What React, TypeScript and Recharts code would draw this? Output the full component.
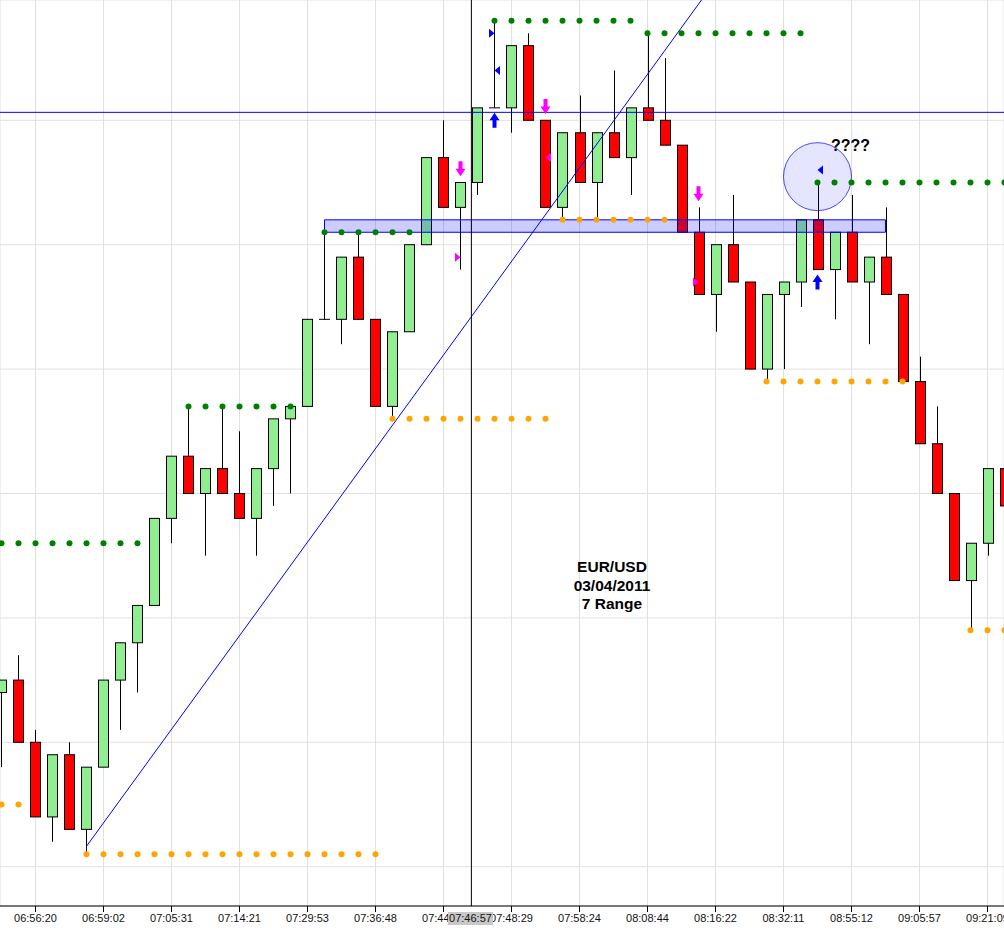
import React from 'react';
import {
  ComposedChart,
  Bar,
  Line,
  XAxis,
  YAxis,
  CartesianGrid,
  ReferenceLine,
  ReferenceArea,
  ReferenceDot
} from 'recharts';

const FONT = '"Liberation Sans", Arial, Helvetica, sans-serif';
const GREEN = '#90EE90';
const RED = '#FF0000';
const BLUE = '#0000FF';
const MAGENTA = '#FF00FF';

// EUR/USD 7 pip range bars, left to right
const opens = [
  1.3914, 1.3915, 1.3910, 1.3904, 1.3909, 1.3903, 1.3908, 1.3915, 1.3918, 1.3921,
  1.3928, 1.3933, 1.3930, 1.3932, 1.3930, 1.3928, 1.3932, 1.3936, 1.3937, 1.3944,
  1.3944, 1.3949, 1.3944, 1.3937, 1.3943, 1.3950, 1.3957, 1.3953, 1.3955, 1.3961,
  1.3961, 1.3966, 1.3960, 1.3953, 1.3959, 1.3955, 1.3959, 1.3957, 1.3961, 1.3960,
  1.3958, 1.3951, 1.3946, 1.3950, 1.3947, 1.3940, 1.3946, 1.3947, 1.3952, 1.3948,
  1.3951, 1.3947, 1.3949, 1.3946, 1.3939, 1.3934, 1.3930, 1.3923, 1.3926, 1.3932
];
const closes = [
  1.3915, 1.3910, 1.3904, 1.3909, 1.3903, 1.3908, 1.3915, 1.3918, 1.3921, 1.3928,
  1.3933, 1.3930, 1.3932, 1.3930, 1.3928, 1.3932, 1.3936, 1.3937, 1.3944, 1.3944,
  1.3949, 1.3944, 1.3937, 1.3943, 1.3950, 1.3957, 1.3953, 1.3955, 1.3961, 1.3961,
  1.3966, 1.3960, 1.3953, 1.3959, 1.3955, 1.3959, 1.3957, 1.3961, 1.3960, 1.3958,
  1.3951, 1.3946, 1.3950, 1.3947, 1.3940, 1.3946, 1.3947, 1.3952, 1.3948, 1.3951,
  1.3947, 1.3949, 1.3946, 1.3939, 1.3934, 1.3930, 1.3923, 1.3926, 1.3932, 1.3929
];
const highs = [
  1.3915, 1.3917, 1.3911, 1.3909, 1.3910, 1.3908, 1.3915, 1.3918, 1.3921, 1.3928,
  1.3933, 1.3937, 1.3932, 1.3937, 1.3935, 1.3932, 1.3936, 1.3937, 1.3944, 1.3951,
  1.3949, 1.3951, 1.3944, 1.3943, 1.3950, 1.3957, 1.3960, 1.3955, 1.3961, 1.3968,
  1.3966, 1.3967, 1.3960, 1.3959, 1.3962, 1.3959, 1.3964, 1.3961, 1.3967, 1.3965,
  1.3958, 1.3953, 1.3950, 1.3954, 1.3947, 1.3946, 1.3947, 1.3952, 1.3955, 1.3951,
  1.3954, 1.3949, 1.3953, 1.3946, 1.3941, 1.3937, 1.3930, 1.3926, 1.3932, 1.3936
];
const lows = [
  1.3908, 1.3910, 1.3904, 1.3902, 1.3903, 1.3901, 1.3908, 1.3911, 1.3914, 1.3921,
  1.3926, 1.3930, 1.3925, 1.3930, 1.3928, 1.3925, 1.3929, 1.3930, 1.3937, 1.3944,
  1.3942, 1.3944, 1.3937, 1.3936, 1.3943, 1.3950, 1.3953, 1.3948, 1.3954, 1.3961,
  1.3959, 1.3960, 1.3953, 1.3952, 1.3955, 1.3952, 1.3957, 1.3954, 1.3960, 1.3958,
  1.3951, 1.3946, 1.3943, 1.3947, 1.3940, 1.3939, 1.3940, 1.3945, 1.3948, 1.3944,
  1.3947, 1.3942, 1.3946, 1.3939, 1.3934, 1.3930, 1.3923, 1.3919, 1.3925, 1.3929
];

// green dotted resistance and orange dotted support levels (null = no dot)
const resistance = [
  1.3926, 1.3926, 1.3926, 1.3926, 1.3926, 1.3926, 1.3926, 1.3926, 1.3926, null,
  null, 1.3937, 1.3937, 1.3937, 1.3937, 1.3937, 1.3937, 1.3937, null, 1.3951,
  1.3951, 1.3951, 1.3951, 1.3951, 1.3951, null, null, null, null, 1.3968,
  1.3968, 1.3968, 1.3968, 1.3968, 1.3968, 1.3968, 1.3968, 1.3968, 1.3967, 1.3967,
  1.3967, 1.3967, 1.3967, 1.3967, 1.3967, 1.3967, 1.3967, 1.3967, 1.3955, 1.3955,
  1.3955, 1.3955, 1.3955, 1.3955, 1.3955, 1.3955, 1.3955, 1.3955, 1.3955, 1.3955
];
const support = [
  1.3905, 1.3905, null, null, null, 1.3901, 1.3901, 1.3901, 1.3901, 1.3901,
  1.3901, 1.3901, 1.3901, 1.3901, 1.3901, 1.3901, 1.3901, 1.3901, 1.3901, 1.3901,
  1.3901, 1.3901, 1.3901, 1.3936, 1.3936, 1.3936, 1.3936, 1.3936, 1.3936, 1.3936,
  1.3936, 1.3936, 1.3936, 1.3952, 1.3952, 1.3952, 1.3952, 1.3952, 1.3952, 1.3952,
  null, null, null, null, null, 1.3939, 1.3939, 1.3939, 1.3939, 1.3939,
  1.3939, 1.3939, 1.3939, 1.3939, null, null, null, 1.3919, 1.3919, 1.3919
];

// signal markers: bar index, price, kind
const signals = [
  { i: 27, price: 1.39561, kind: 'sellArrow' },
  { i: 32, price: 1.39611, kind: 'sellArrow' },
  { i: 41, price: 1.39541, kind: 'sellArrow' },
  { i: 29, price: 1.39600, kind: 'buyArrow' },
  { i: 48, price: 1.39470, kind: 'buyArrow' },
  { i: 27, price: 1.39490, kind: 'sellRight' },
  { i: 32, price: 1.39570, kind: 'sellLeft' },
  { i: 41, price: 1.39470, kind: 'sellRight' },
  { i: 29, price: 1.39670, kind: 'buyRight' },
  { i: 29, price: 1.39640, kind: 'buyLeft' },
  { i: 48, price: 1.39560, kind: 'buyLeft' }
];

const tickIndex = [2, 6, 10, 14, 18, 22, 26, 30, 34, 38, 42, 46, 50, 54, 58];
const tickLabels = [
  '06:56:20', '06:59:02', '07:05:31', '07:14:21', '07:29:53', '07:36:48', '07:44:51',
  '07:48:29', '07:58:24', '08:08:44', '08:16:22', '08:32:11', '08:55:12', '09:05:57', '09:21:09'
];
const gridLevels = [1.3900, 1.3910, 1.3920, 1.3930, 1.3940, 1.3950, 1.3960];

const rows = opens.map((open, idx) => ({
  idx,
  open,
  close: closes[idx],
  high: highs[idx],
  low: lows[idx],
  range: [lows[idx], highs[idx]],
  res: resistance[idx],
  sup: support[idx]
}));

const Candle = (props: any) => {
  const { x, y, width, height, payload } = props;
  if (x == null || y == null || !payload) return null;
  const cx = Math.round(x + width / 2 - 0.5) + 0.5;
  const top = Math.min(y, y + height);
  const h = Math.abs(height);
  const { open, close, high, low } = payload;
  const k = h / (high - low);
  const yAt = (v: number) => top + (high - v) * k;
  const yo = yAt(open);
  const yc = yAt(close);
  return (
    <g>
      <line x1={cx} x2={cx} y1={top} y2={top + h} stroke="#000" strokeWidth={1} />
      {open === close ? (
        <line x1={cx - 5.5} x2={cx + 5.5} y1={yo} y2={yo} stroke="#000" strokeWidth={1} />
      ) : (
        <rect
          x={cx - 5}
          y={Math.min(yo, yc)}
          width={10}
          height={Math.abs(yo - yc)}
          fill={close > open ? GREEN : RED}
          stroke="#000"
          strokeWidth={1}
        />
      )}
    </g>
  );
};

const signalShape = (kind: string) => (p: any) => {
  const { cx, cy } = p;
  if (cx == null || cy == null) return <g />;
  const color = kind.startsWith('sell') ? MAGENTA : BLUE;
  let pts = '';
  if (kind === 'sellArrow') {
    pts = `${cx - 2},${cy - 7.5} ${cx + 2},${cy - 7.5} ${cx + 2},${cy} ${cx + 5},${cy} ${cx},${cy + 7.5} ${cx - 5},${cy} ${cx - 2},${cy}`;
  } else if (kind === 'buyArrow') {
    pts = `${cx - 2},${cy + 7.5} ${cx + 2},${cy + 7.5} ${cx + 2},${cy} ${cx + 5},${cy} ${cx},${cy - 7.5} ${cx - 5},${cy} ${cx - 2},${cy}`;
  } else if (kind.endsWith('Right')) {
    pts = `${cx},${cy} ${cx - 5.5},${cy - 4.5} ${cx - 5.5},${cy + 4.5}`;
  } else {
    pts = `${cx},${cy} ${cx + 5.5},${cy - 4.5} ${cx + 5.5},${cy + 4.5}`;
  }
  return <polygon points={pts} fill={color} stroke="none" />;
};

const App = () => {
  return (
    <div
      style={{
        position: 'absolute',
        left: 0,
        top: 0,
        width: 1004,
        height: 932,
        background: '#fff',
        fontFamily: FONT,
        overflow: 'hidden'
      }}
    >
      <ComposedChart width={1004} height={932} data={rows} margin={{ top: 0, right: 0, bottom: 0, left: 0 }}>
        <CartesianGrid stroke="#e0e0e0" />
        <XAxis
          dataKey="idx"
          type="number"
          domain={[-0.088235, 58.970588]}
          allowDataOverflow
          ticks={tickIndex}
          interval={0}
          height={26}
          tickSize={6}
          tickFormatter={(v: number) => tickLabels[tickIndex.indexOf(v)] ?? ''}
          tick={{ fontSize: 11, fill: '#111', fontFamily: FONT }}
          axisLine={{ stroke: '#000' }}
          tickLine={{ stroke: '#000' }}
        />
        <YAxis hide type="number" domain={[1.389684, 1.396967]} allowDataOverflow ticks={gridLevels} />
        <Bar dataKey="range" barSize={10} shape={Candle} isAnimationActive={false} />
        <Line
          dataKey="res"
          stroke="none"
          dot={{ r: 3, fill: '#008000', stroke: 'none' }}
          activeDot={false}
          isAnimationActive={false}
        />
        <Line
          dataKey="sup"
          stroke="none"
          dot={{ r: 3, fill: '#FFA500', stroke: 'none' }}
          activeDot={false}
          isAnimationActive={false}
        />
        <ReferenceArea
          x1={19}
          x2={52}
          y1={1.3951}
          y2={1.3952}
          fill={BLUE}
          fillOpacity={0.2}
          stroke={BLUE}
          strokeWidth={1}
          zIndex={450}
        />
        <ReferenceLine y={1.396064} stroke={BLUE} strokeWidth={1} zIndex={460} />
        <ReferenceLine
          segment={[{ x: 5.01, y: 1.390166 }, { x: 43, y: 1.39731 }]}
          stroke={BLUE}
          strokeWidth={1}
          ifOverflow="hidden"
          zIndex={460}
        />
        <ReferenceLine x={27.64} stroke="#000" strokeWidth={1} zIndex={460} />
        <ReferenceDot
          x={48}
          y={1.395547}
          r={34}
          fill={BLUE}
          fillOpacity={0.1}
          stroke={BLUE}
          strokeOpacity={0.7}
          zIndex={440}
        />
        {signals.map((s, n) => (
          <ReferenceDot key={n} x={s.i} y={s.price} r={5} shape={signalShape(s.kind)} zIndex={600} />
        ))}
      </ComposedChart>

      <div
        style={{
          position: 'absolute',
          left: 552,
          top: 558,
          width: 120,
          textAlign: 'center',
          fontWeight: 'bold',
          fontSize: 15.5,
          lineHeight: '18.5px',
          color: '#000'
        }}
      >
        <div>EUR/USD</div>
        <div>03/04/2011</div>
        <div>7 Range</div>
      </div>
      <div
        style={{
          position: 'absolute',
          left: 831,
          top: 137,
          fontWeight: 'bold',
          fontSize: 16,
          lineHeight: '18px',
          color: '#000'
        }}
      >
        ????
      </div>
      <div
        style={{
          position: 'absolute',
          left: 448,
          top: 912,
          width: 45,
          height: 13,
          background: '#c8c8c8',
          fontSize: 11,
          lineHeight: '13px',
          textAlign: 'center',
          color: '#111'
        }}
      >
        07:46:57
      </div>
    </div>
  );
};

export default App;
